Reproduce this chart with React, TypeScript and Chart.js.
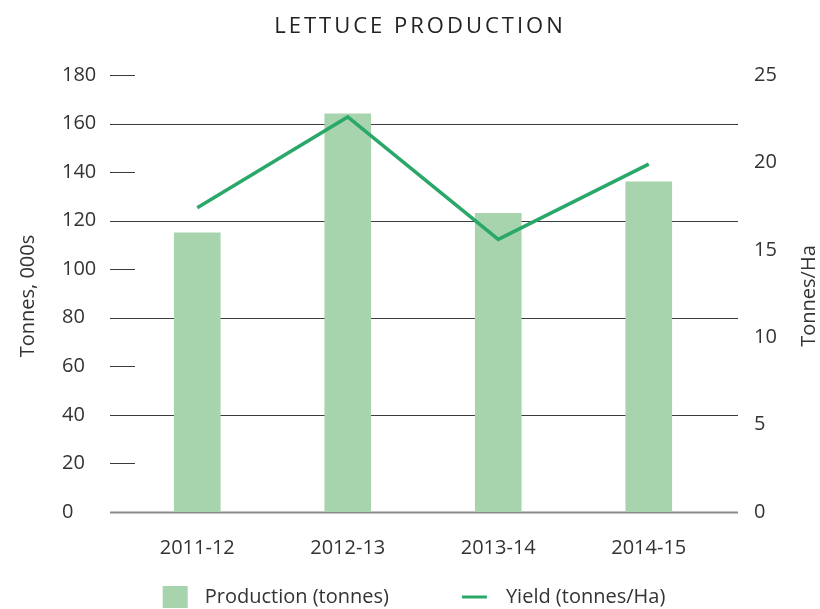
import React, { useEffect, useRef } from 'react';
import { Chart, registerables } from 'chart.js';

Chart.register(...registerables);

const categories = ['2011-12', '2012-13', '2013-14', '2014-15'];
const production = [115, 164, 123, 136];
const yieldValues = [17.4, 22.6, 15.6, 19.9];
const chartTitle = 'LETTUCE PRODUCTION';
const leftAxisTitle = 'Tonnes, 000s';
const rightAxisTitle = 'Tonnes/Ha';
const productionLabel = 'Production (tonnes)';
const yieldLabel = 'Yield (tonnes/Ha)';

const FONT = '"Open Sans", sans-serif';
const TEXT = '#333333';
const BAR = '#a7d4ad';
const LINE = '#2aa86a';

const decor = {
  id: 'decor',
  beforeDatasetsDraw(chart: any) {
    const { ctx, chartArea } = chart;
    const y = chart.scales.y;
    ctx.save();
    y.ticks.forEach((t: any) => {
      const py = Math.round(y.getPixelForValue(t.value)) + 0.5;
      ctx.beginPath();
      if (t.value === 0) {
        ctx.strokeStyle = '#8a8a8a';
        ctx.lineWidth = 2;
        ctx.moveTo(chartArea.left - 12, py);
        ctx.lineTo(chartArea.right + 14, py);
      } else if (t.value % 40 === 0) {
        ctx.strokeStyle = '#3c3c3c';
        ctx.lineWidth = 1;
        ctx.moveTo(chartArea.left - 12, py);
        ctx.lineTo(chartArea.right + 14, py);
      } else {
        ctx.strokeStyle = '#3c3c3c';
        ctx.lineWidth = 1;
        ctx.moveTo(chartArea.left - 12, py);
        ctx.lineTo(chartArea.left + 13, py);
      }
      ctx.stroke();
    });
    ctx.restore();
  },
  afterDraw(chart: any) {
    const { ctx, chartArea } = chart;
    const midY = (chartArea.top + chartArea.bottom) / 2;
    ctx.save();
    ctx.fillStyle = '#222';
    ctx.font = `22px ${FONT}`;
    ctx.textAlign = 'center';
    ctx.textBaseline = 'middle';
    (ctx as any).letterSpacing = '3px';
    ctx.fillText(chartTitle, chart.width / 2 + 10, 27);
    (ctx as any).letterSpacing = '0px';

    ctx.fillStyle = TEXT;
    ctx.font = `20px ${FONT}`;
    ctx.save();
    ctx.translate(28, 296);
    ctx.rotate(-Math.PI / 2);
    ctx.fillText(leftAxisTitle, 0, 0);
    ctx.restore();
    ctx.save();
    ctx.translate(809, 296);
    ctx.rotate(-Math.PI / 2);
    ctx.fillText(rightAxisTitle, 0, 0);
    ctx.restore();

    // legend
    const w1 = ctx.measureText(productionLabel).width;
    const w2 = ctx.measureText(yieldLabel).width;
    const total = 25 + 17 + w1 + 73 + 25 + 19 + w2;
    let x = 414 - total / 2;
    const ly = 597;
    ctx.fillStyle = BAR;
    ctx.fillRect(x, ly - 11, 25, 22);
    x += 25 + 17;
    ctx.fillStyle = TEXT;
    ctx.textAlign = 'left';
    ctx.fillText(productionLabel, x, ly);
    x += w1 + 73;
    ctx.strokeStyle = LINE;
    ctx.lineWidth = 3;
    ctx.beginPath();
    ctx.moveTo(x, ly);
    ctx.lineTo(x + 25, ly);
    ctx.stroke();
    x += 25 + 19;
    ctx.fillStyle = TEXT;
    ctx.fillText(yieldLabel, x, ly);
    ctx.restore();
  },
};

export default function App() {
  const ref = useRef<HTMLCanvasElement>(null);
  useEffect(() => {
    if (!ref.current) return;
    const chart = new Chart(ref.current, {
      type: 'bar',
      data: {
        labels: categories,
        datasets: [
          {
            type: 'line',
            label: yieldLabel,
            data: yieldValues,
            yAxisID: 'y1',
            borderColor: LINE,
            backgroundColor: LINE,
            borderWidth: 3.5,
            pointRadius: 0,
            tension: 0,
            order: 0,
          } as any,
          {
            type: 'bar',
            label: productionLabel,
            data: production,
            yAxisID: 'y',
            backgroundColor: BAR,
            barThickness: 46,
            order: 1,
          },
        ],
      },
      options: {
        animation: false,
        responsive: true,
        maintainAspectRatio: false,
        layout: { padding: { left: 62, right: 36, top: 75, bottom: 0 } },
        plugins: {
          legend: { display: false },
          title: { display: false },
          tooltip: { enabled: false },
        },
        scales: {
          x: {
            grid: { display: false, drawTicks: false },
            border: { display: false },
            ticks: { color: TEXT, font: { family: FONT, size: 20 }, padding: 24 },
            afterFit: (s: any) => { s.height = 97; },
          },
          y: {
            position: 'left',
            min: 0,
            max: 180,
            grid: { display: false, drawTicks: false },
            border: { display: false },
            ticks: {
              stepSize: 20,
              crossAlign: 'far',
              color: TEXT,
              font: { family: FONT, size: 20 },
              padding: 10,
            },
            afterFit: (s: any) => { s.width = 60; },
          },
          y1: {
            position: 'right',
            min: 0,
            max: 25,
            grid: { display: false, drawTicks: false },
            border: { display: false },
            ticks: {
              stepSize: 5,
              color: TEXT,
              font: { family: FONT, size: 20 },
              padding: 30,
            },
            afterFit: (s: any) => { s.width = 60; },
          },
        },
      },
      plugins: [decor],
    });
    return () => chart.destroy();
  }, []);
  return (
    <div style={{ position: 'fixed', left: 0, top: 0, width: 820, height: 609, background: '#fff' }}>
      <canvas ref={ref} />
    </div>
  );
}
